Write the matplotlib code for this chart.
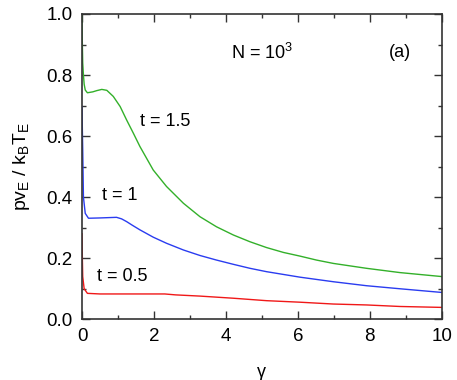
import numpy as np
import matplotlib
matplotlib.use('Agg')
import matplotlib.pyplot as plt
from matplotlib.ticker import MultipleLocator

plt.rcParams['font.family'] = ['Liberation Sans', 'DejaVu Sans']
plt.rcParams['mathtext.fontset'] = 'custom'
plt.rcParams['mathtext.rm'] = 'Liberation Sans'
plt.rcParams['mathtext.it'] = 'Liberation Sans'

# curves (gamma, p v_E / k_B T_E)
g_t15 = [0.0, 0.005, 0.02, 0.04, 0.06, 0.09, 0.15, 0.3, 0.41, 0.55, 0.69, 0.87, 1.06, 1.24,
         1.43, 1.61, 1.98, 2.35, 2.82, 3.28, 3.74, 4.21, 4.67, 5.13, 5.6, 6.06, 6.52, 6.99,
         7.91, 8.84, 10.0]
v_t15 = [1.0, 0.93, 0.84, 0.80, 0.77, 0.751, 0.742, 0.745, 0.749, 0.753, 0.750, 0.730, 0.697,
         0.653, 0.609, 0.566, 0.489, 0.435, 0.38, 0.336, 0.303, 0.276, 0.254, 0.235, 0.219,
         0.207, 0.194, 0.183, 0.167, 0.153, 0.140]

g_t1 = [0.0, 0.01, 0.02, 0.04, 0.09, 0.18, 0.5, 0.96, 1.1, 1.24, 1.4, 1.61, 1.98, 2.35, 2.82,
        3.28, 3.74, 4.21, 4.67, 5.13, 6.06, 6.99, 7.91, 8.84, 10.0]
v_t1 = [0.697, 0.62, 0.555, 0.40, 0.347, 0.331, 0.332, 0.334, 0.329, 0.32, 0.308, 0.293,
        0.269, 0.249, 0.227, 0.209, 0.194, 0.18, 0.167, 0.156, 0.138, 0.123, 0.110, 0.100, 0.088]

g_t05 = [0.0, 0.01, 0.02, 0.06, 0.15, 0.5, 2.3, 2.6, 3.28, 4.21, 5.13, 6.06, 6.99, 7.91,
         8.84, 10.0]
v_t05 = [0.28, 0.2, 0.14, 0.10, 0.085, 0.083, 0.083, 0.080, 0.076, 0.069, 0.061, 0.056,
         0.050, 0.047, 0.042, 0.039]

fig = plt.figure(figsize=(4.57, 3.8), dpi=100)
ax = fig.add_axes([82 / 457, 1 - 319.3 / 380, (441.7 - 82) / 457, (319.3 - 14) / 380])

ax.plot(g_t15, v_t15, color='#33b02a', lw=1.0)
ax.plot(g_t1, v_t1, color='#2a3cf0', lw=1.0)
ax.plot(g_t05, v_t05, color='#f01818', lw=1.0)

ax.set_xlim(0, 10)
ax.set_ylim(0, 1.0)
ax.xaxis.set_major_locator(MultipleLocator(2))
ax.xaxis.set_minor_locator(MultipleLocator(1))
ax.yaxis.set_major_locator(MultipleLocator(0.2))
ax.yaxis.set_minor_locator(MultipleLocator(0.1))
ax.set_yticks(np.arange(0, 1.01, 0.2))
ax.set_yticklabels([f'{v:.1f}' for v in np.arange(0, 1.01, 0.2)])
ax.tick_params(which='both', direction='in', top=True, right=True, labelsize=13.5, width=1.0,
               color='#333333')
ax.tick_params(which='major', length=6)
ax.tick_params(axis='x', which='major', pad=6)
ax.tick_params(axis='y', which='major', pad=7)
ax.tick_params(which='minor', length=3)
for s in ax.spines.values():
    s.set_linewidth(1.2)
    s.set_color('#333333')

ax.text(0.50, 0.874, r'N = 10$^3$', transform=ax.transAxes, fontsize=13, ha='center', va='center')
ax.text(0.883, 0.874, '(a)', transform=ax.transAxes, fontsize=13, ha='center', va='center')
ax.text(1.6, 0.648, 't = 1.5', fontsize=13, ha='left', va='center')
ax.text(0.55, 0.405, 't = 1', fontsize=13, ha='left', va='center')
ax.text(0.41, 0.14, 't = 0.5', fontsize=13, ha='left', va='center')

ax.set_xlabel('γ', fontsize=13, labelpad=14)
ax.set_ylabel(r'$\mathrm{pv_E\ /\ k_BT_E}$', fontsize=14, labelpad=10)

fig.savefig('out.png', dpi=100)
